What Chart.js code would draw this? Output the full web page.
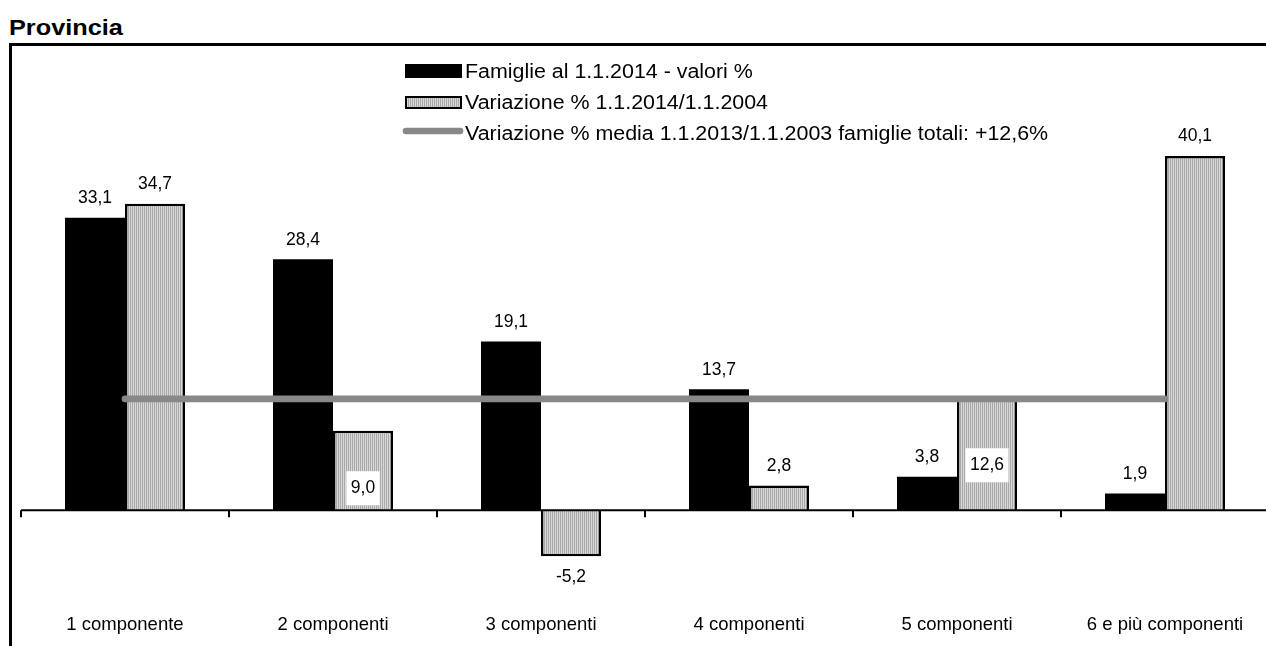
<!DOCTYPE html>
<html>
<head>
<meta charset="utf-8">
<script src="https://cdn.jsdelivr.net/npm/chart.js@4.4.1/dist/chart.umd.min.js"></script>
<style>
  html, body { margin: 0; padding: 0; background: #fff; overflow: hidden; width: 1266px; height: 646px; }
  #title { position: absolute; left: 9px; top: 16px; margin: 0; font: bold 22px "Liberation Sans", Arial, sans-serif; line-height: 24px; transform-origin: 0 0; transform: scaleX(1.15); }
  #frame { position: absolute; left: 9px; top: 43px; width: 1300px; height: 700px; border-top: 3px solid #000; border-left: 3px solid #000; }
  #chartBox { position: absolute; left: 0; top: 0; }
</style>
</head>
<body>
<div id="title">Provincia</div>
<div id="frame"></div>
<div id="chartBox"><canvas id="famChart" width="1272" height="652"></canvas></div>
<script>
const categories = ["1 componente", "2 componenti", "3 componenti", "4 componenti", "5 componenti", "6 e più componenti"];
const famiglie2014 = [33.1, 28.4, 19.1, 13.7, 3.8, 1.9];
const variazione = [34.7, 9.0, -5.2, 2.8, 12.6, 40.1];
const mediaTotale = [12.6, 12.6, 12.6, 12.6, 12.6, 12.6];
const seriesNames = [
  "Famiglie al 1.1.2014 - valori %",
  "Variazione % 1.1.2014/1.1.2004",
  "Variazione % media 1.1.2013/1.1.2003 famiglie totali: +12,6%"
];

const FONT = '"Liberation Sans", Arial, sans-serif';
// labels of the variazione bars that sit inside the bar on a white box (px above zero)
const insideLift = { 1: 24, 4: 47 };

// striped grey fill like the original
function stripes() {
  const c = document.createElement("canvas");
  c.width = 2; c.height = 2;
  const g = c.getContext("2d");
  g.fillStyle = "#a9a9a9"; g.fillRect(0, 0, 1, 2);
  g.fillStyle = "#d8d8d8"; g.fillRect(1, 0, 1, 2);
  return g.createPattern(c, "repeat");
}
const greyFill = stripes();

const fmt = (v) => v.toFixed(1).replace(".", ",");

const axisLine = {
  id: "axisLine",
  afterDatasetsDraw(chart) {
    const { ctx, chartArea } = chart;
    const y0 = chart.scales.y.getPixelForValue(0);
    const n = chart.data.labels.length;
    const w = (chartArea.right - chartArea.left) / n;
    ctx.save();
    ctx.strokeStyle = "#000";
    ctx.lineWidth = 2;
    ctx.beginPath();
    ctx.moveTo(chartArea.left, y0);
    ctx.lineTo(chartArea.right, y0);
    for (let k = 0; k <= n; k++) {
      const x = Math.round(chartArea.left + k * w);
      ctx.moveTo(x, y0);
      ctx.lineTo(x, y0 + 7);
    }
    ctx.stroke();
    ctx.restore();
  }
};

const valueLabels = {
  id: "valueLabels",
  afterDraw(chart) {
    const ctx = chart.ctx;
    const y0 = chart.scales.y.getPixelForValue(0);
    ctx.save();
    ctx.font = "17.5px " + FONT;
    ctx.textAlign = "center";
    ctx.textBaseline = "alphabetic";
    chart.data.datasets.forEach((ds, di) => {
      if (ds.type !== "bar") return;
      chart.getDatasetMeta(di).data.forEach((bar, i) => {
        const v = ds.data[i];
        const txt = fmt(v);
        const lift = di === 2 ? insideLift[i] : undefined;
        if (lift !== undefined) {
          const cy = y0 - lift;
          const tw = ctx.measureText(txt).width + 9;
          ctx.fillStyle = "#fff";
          ctx.fillRect(bar.x - tw / 2, cy - 15, tw, 34);
          ctx.fillStyle = "#000";
          ctx.fillText(txt, bar.x, cy + 6.3);
        } else if (v >= 0) {
          ctx.fillStyle = "#000";
          ctx.fillText(txt, bar.x, bar.y - 14.5);
        } else {
          ctx.fillStyle = "#000";
          ctx.fillText(txt, bar.x, bar.y + 26);
        }
      });
    });
    ctx.restore();
  }
};

function stretchedText(ctx, txt, x, y) {
  ctx.save();
  ctx.translate(x, y);
  ctx.scale(1.07, 1);
  ctx.fillText(txt, 0, 0);
  ctx.restore();
}

const boxLegend = {
  id: "boxLegend",
  afterDraw(chart) {
    const ctx = chart.ctx;
    const x = 405, w = 57, tx = 465;
    ctx.save();
    ctx.font = "20px " + FONT;
    ctx.textAlign = "left";
    ctx.textBaseline = "alphabetic";
    ctx.fillStyle = "#000";

    ctx.fillRect(x, 64, w, 14);
    stretchedText(ctx, seriesNames[0], tx, 78);

    ctx.fillStyle = greyFill;
    ctx.fillRect(x, 96, w, 13);
    ctx.strokeStyle = "#000";
    ctx.lineWidth = 2;
    ctx.strokeRect(x + 1, 97, w - 2, 11);
    ctx.fillStyle = "#000";
    stretchedText(ctx, seriesNames[1], tx, 109);

    ctx.strokeStyle = "#888";
    ctx.lineWidth = 6.6;
    ctx.lineCap = "round";
    ctx.beginPath();
    ctx.moveTo(x + 1, 131);
    ctx.lineTo(x + w - 2, 131);
    ctx.stroke();
    stretchedText(ctx, seriesNames[2], tx, 140);
    ctx.restore();
  }
};

new Chart(document.getElementById("famChart"), {
  data: {
    labels: categories,
    datasets: [
      {
        type: "line", label: seriesNames[2], data: mediaTotale,
        borderColor: "#888888", borderWidth: 6.6, borderCapStyle: "round",
        pointRadius: 0, fill: false, order: 0
      },
      {
        type: "bar", label: seriesNames[0], data: famiglie2014,
        backgroundColor: "#000", borderWidth: 0,
        barPercentage: 1, categoryPercentage: 0.577, order: 1
      },
      {
        type: "bar", label: seriesNames[1], data: variazione,
        backgroundColor: greyFill, borderColor: "#000", borderWidth: 2.5,
        barPercentage: 1, categoryPercentage: 0.577, order: 1
      }
    ]
  },
  options: {
    responsive: false,
    animation: false,
    layout: { padding: { top: 112.65, left: 21, right: 3, bottom: 0 } },
    plugins: { legend: { display: false }, tooltip: { enabled: false } },
    scales: {
      x: {
        grid: { display: false, drawTicks: false },
        border: { display: false },
        ticks: { color: "#000", font: { family: FONT, size: 18.5 }, padding: 15.6 }
      },
      y: { display: false, min: -10, max: 45 }
    }
  },
  plugins: [axisLine, valueLabels, boxLegend]
});
</script>
</body>
</html>
